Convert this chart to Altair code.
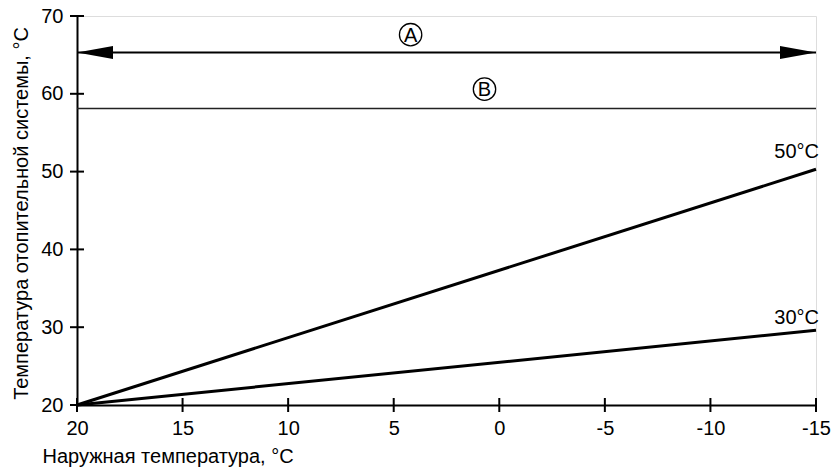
import altair as alt
import pandas as pd

# ---- data ----
x_ticks = [20, 15, 10, 5, 0, -5, -10, -15]
y_ticks = [20, 30, 40, 50, 60, 70]

curve_series = ["50°C", "50°C", "30°C", "30°C"]
curve_outdoor = [20, -15, 20, -15]
curve_flow = [20, 50.3, 20, 29.6]

label_text = ["50°C", "30°C"]
label_x = [-15, -15]
label_y = [51.7, 30.4]

arrow_x = [20, -15]
arrow_y = [65.3, 65.3]
arrow_dir = ["left", "right"]

limit_b_x = [20, -15]
limit_b_y = [58.1, 58.1]

marker_text = ["A", "B"]
marker_x = [4.2, 0.7]
marker_y = [67.6, 60.6]

FONT = "Liberation Sans"
W, H = 739, 389

xs = alt.Scale(domain=[-15, 20], reverse=True, nice=False, zero=False)
ys = alt.Scale(domain=[20, 70], nice=False, zero=False)

x_axis = alt.Axis(values=x_ticks, ticks=False, grid=False, domainColor="black", domainWidth=2,
                  labelFont=FONT, labelFontSize=20, labelColor="black", labelPadding=13,
                  labelFlush=False, labelExpr="'' + datum.value",
                  title="Наружная температура, °C", titleFont=FONT, titleFontSize=20,
                  titleFontWeight="normal", titleColor="black", titleAlign="left",
                  titleAnchor="start", titleX=-35, titleY=57, titleBaseline="alphabetic")
y_axis = alt.Axis(values=y_ticks, ticks=False, grid=False, domainColor="black", domainWidth=2,
                  labelFont=FONT, labelFontSize=20, labelColor="black", labelPadding=14,
                  labelFlush=False,
                  title="Температура отопительной системы, °C", titleFont=FONT, titleFontSize=20,
                  titleFontWeight="normal", titleColor="black", titleAngle=270,
                  titleAlign="center", titleX=-50, titleY=197, titleBaseline="alphabetic")


def X():
    return alt.X("x:Q", scale=xs, axis=x_axis)


def Y():
    return alt.Y("y:Q", scale=ys, axis=y_axis)


curves_df = pd.DataFrame({"x": curve_outdoor, "y": curve_flow, "s": curve_series})
curves = alt.Chart(curves_df).mark_line(color="black", strokeWidth=3).encode(
    x=X(), y=Y(), detail="s:N")

limit_df = pd.DataFrame({"x": limit_b_x, "y": limit_b_y})
limit_line = alt.Chart(limit_df).mark_line(color="#222222", strokeWidth=1.5).encode(x=X(), y=Y())

arrow_df = pd.DataFrame({"x": arrow_x, "y": arrow_y, "d": arrow_dir})
arrow_line = alt.Chart(arrow_df).mark_line(color="black", strokeWidth=2).encode(x=X(), y=Y())

left_head = "M0,0L2,-0.36L2,0.36Z"
right_head = "M0,0L-2,-0.36L-2,0.36Z"
arrow_heads = alt.Chart(arrow_df).mark_point(filled=True, color="black", opacity=1, strokeWidth=0).encode(
    x=X(), y=Y(),
    shape=alt.Shape("d:N", scale=alt.Scale(domain=["left", "right"], range=[left_head, right_head]), legend=None),
    size=alt.value(1296),
)

marker_df = pd.DataFrame({"x": marker_x, "y": marker_y, "t": marker_text})
marker_circles = alt.Chart(marker_df).mark_point(shape="circle", filled=False, color="black",
                                                 strokeWidth=1.3, opacity=1, size=500).encode(
    x=X(), y=Y())
marker_texts = alt.Chart(marker_df).mark_text(font=FONT, fontSize=20, color="black",
                                              baseline="middle", align="center", dy=1).encode(
    x=X(), y=Y(), text="t:N")

label_df = pd.DataFrame({"x": label_x, "y": label_y, "t": label_text})
labels = alt.Chart(label_df).mark_text(font=FONT, fontSize=20, color="black",
                                       align="right", baseline="alphabetic", dx=3).encode(
    x=X(), y=Y(), text="t:N")

xt_df = pd.DataFrame({"x": x_ticks})
x_tick_marks = alt.Chart(xt_df).mark_rule(color="black", strokeWidth=2).encode(
    x=X(), y=alt.value(H - 7), y2=alt.value(H + 7))

yt_df = pd.DataFrame({"y": y_ticks})
y_tick_marks = alt.Chart(yt_df).mark_rule(color="black", strokeWidth=2).encode(
    y=Y(), x=alt.value(-7), x2=alt.value(7))

chart = alt.layer(
    curves, limit_line, arrow_line, arrow_heads, marker_circles, marker_texts, labels,
    x_tick_marks, y_tick_marks,
).properties(
    width=W, height=H,
    autosize=alt.AutoSizeParams(type="none"),
    padding={"left": 77, "top": 16, "right": 20, "bottom": 66},
).configure_view(strokeWidth=0, stroke="transparent").configure(background="white")

chart.save("out.html", embed_options={"renderer": "svg", "actions": False})
